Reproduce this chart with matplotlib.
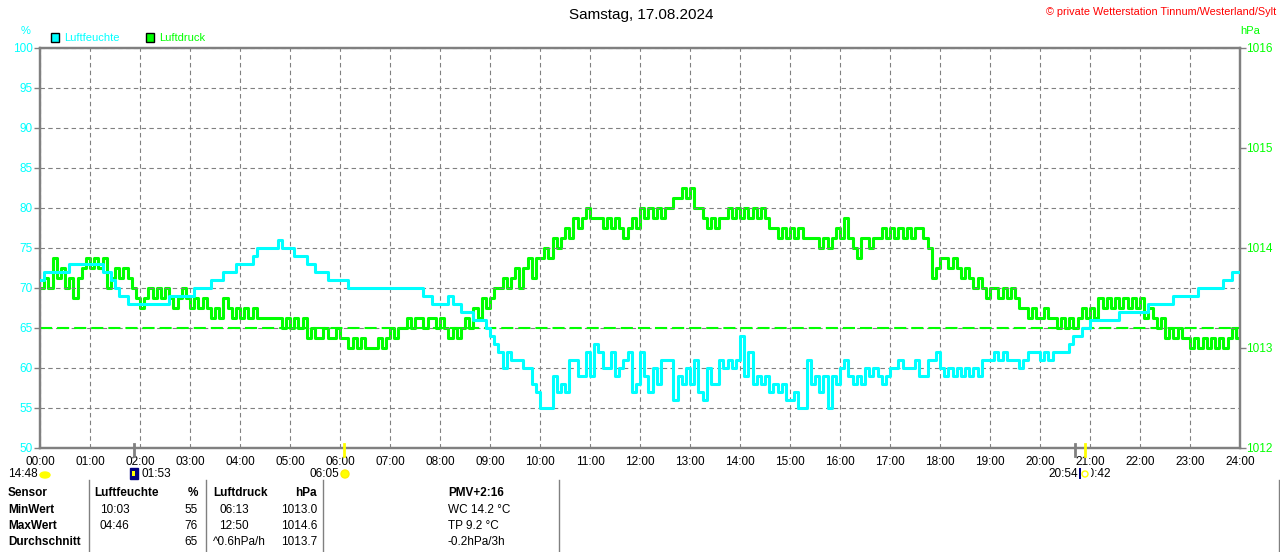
import numpy as np
import matplotlib
matplotlib.use("Agg")
import matplotlib.pyplot as plt
from matplotlib.patches import Rectangle, Ellipse

plt.rcParams['font.family'] = ['Liberation Sans', 'DejaVu Sans']

W, H = 1280, 552

title = "Samstag, 17.08.2024"
copyright_text = "© private Wetterstation Tinnum/Westerland/Sylt"
hour_labels = [f"{h:02d}:00" for h in range(25)]
hum_ticks = list(range(50, 101, 5))
pres_ticks = [1012, 1013, 1014, 1015, 1016]
avg_humidity = 65
step_minutes = 5

# Luftfeuchte (%), one value every 5 minutes, 00:00 .. 24:00
humidity = [
    71, 72, 72, 72, 72, 72, 72, 73, 73, 73, 73, 73,
    73, 73, 73, 72, 72, 71, 70, 69, 69, 68, 68, 68,
    68, 68, 68, 68, 68, 68, 68, 69, 69, 69, 69, 69,
    69, 70, 70, 70, 70, 71, 71, 71, 72, 72, 72, 73,
    73, 73, 73, 74, 75, 75, 75, 75, 75, 76, 75, 75,
    75, 74, 74, 74, 73, 73, 72, 72, 72, 71, 71, 71,
    71, 71, 70, 70, 70, 70, 70, 70, 70, 70, 70, 70,
    70, 70, 70, 70, 70, 70, 70, 70, 69, 69, 68, 68,
    68, 68, 69, 68, 68, 67, 67, 67, 66, 66, 66, 65,
    64, 63, 62, 60, 62, 61, 61, 61, 60, 60, 58, 57,
    55, 55, 55, 59, 57, 58, 57, 61, 61, 59, 59, 62,
    59, 63, 62, 60, 60, 62, 59, 60, 61, 62, 57, 58,
    62, 59, 57, 60, 58, 61, 61, 61, 56, 59, 58, 60,
    58, 61, 57, 56, 60, 58, 58, 61, 60, 61, 60, 61,
    64, 59, 62, 58, 59, 58, 59, 57, 58, 57, 58, 56,
    56, 57, 55, 55, 61, 58, 59, 57, 59, 55, 59, 58,
    60, 61, 59, 58, 59, 58, 60, 59, 60, 59, 58, 59,
    60, 60, 61, 60, 60, 60, 61, 59, 59, 61, 61, 62,
    60, 59, 60, 59, 60, 59, 60, 59, 60, 59, 61, 61,
    61, 62, 61, 62, 61, 61, 61, 60, 61, 62, 62, 62,
    61, 62, 61, 62, 62, 62, 62, 63, 64, 64, 65, 65,
    66, 66, 66, 66, 66, 66, 66, 67, 67, 67, 67, 67,
    67, 67, 68, 68, 68, 68, 68, 68, 69, 69, 69, 69,
    69, 69, 70, 70, 70, 70, 70, 70, 71, 71, 72, 72,
    72,
]

# Luftdruck (hPa), one value every 5 minutes, 00:00 .. 24:00
pressure = [
    1013.6, 1013.7, 1013.6, 1013.9, 1013.7, 1013.8, 1013.6, 1013.7, 1013.5, 1013.7, 1013.8, 1013.9,
    1013.8, 1013.9, 1013.8, 1013.9, 1013.6, 1013.7, 1013.8, 1013.7, 1013.8, 1013.7, 1013.6, 1013.5,
    1013.4, 1013.5, 1013.6, 1013.5, 1013.6, 1013.5, 1013.6, 1013.5, 1013.4, 1013.5, 1013.6, 1013.5,
    1013.4, 1013.5, 1013.4, 1013.5, 1013.4, 1013.3, 1013.4, 1013.3, 1013.5, 1013.4, 1013.3, 1013.4,
    1013.3, 1013.4, 1013.3, 1013.4, 1013.3, 1013.3, 1013.3, 1013.3, 1013.3, 1013.3, 1013.2, 1013.3,
    1013.2, 1013.3, 1013.2, 1013.3, 1013.1, 1013.2, 1013.1, 1013.1, 1013.2, 1013.1, 1013.1, 1013.2,
    1013.1, 1013.1, 1013.0, 1013.1, 1013.0, 1013.1, 1013.0, 1013.0, 1013.0, 1013.1, 1013.0, 1013.1,
    1013.2, 1013.1, 1013.2, 1013.2, 1013.3, 1013.2, 1013.3, 1013.3, 1013.2, 1013.3, 1013.3, 1013.2,
    1013.3, 1013.2, 1013.1, 1013.2, 1013.1, 1013.2, 1013.3, 1013.2, 1013.4, 1013.3, 1013.5, 1013.4,
    1013.5, 1013.6, 1013.6, 1013.7, 1013.6, 1013.7, 1013.8, 1013.6, 1013.8, 1013.9, 1013.7, 1013.9,
    1013.9, 1014.0, 1013.9, 1014.1, 1014.0, 1014.1, 1014.2, 1014.1, 1014.3, 1014.2, 1014.3, 1014.4,
    1014.3, 1014.3, 1014.3, 1014.2, 1014.3, 1014.2, 1014.3, 1014.2, 1014.1, 1014.2, 1014.3, 1014.2,
    1014.4, 1014.3, 1014.4, 1014.3, 1014.4, 1014.3, 1014.4, 1014.4, 1014.5, 1014.5, 1014.6, 1014.5,
    1014.6, 1014.4, 1014.4, 1014.3, 1014.2, 1014.3, 1014.2, 1014.3, 1014.3, 1014.4, 1014.3, 1014.4,
    1014.3, 1014.4, 1014.3, 1014.4, 1014.3, 1014.4, 1014.3, 1014.2, 1014.2, 1014.1, 1014.2, 1014.1,
    1014.2, 1014.1, 1014.2, 1014.1, 1014.1, 1014.1, 1014.1, 1014.0, 1014.1, 1014.0, 1014.1, 1014.2,
    1014.1, 1014.3, 1014.1, 1014.0, 1013.9, 1014.1, 1014.1, 1014.0, 1014.1, 1014.1, 1014.2, 1014.1,
    1014.2, 1014.1, 1014.2, 1014.1, 1014.2, 1014.1, 1014.2, 1014.2, 1014.1, 1014.0, 1013.7, 1013.8,
    1013.9, 1013.9, 1013.8, 1013.9, 1013.8, 1013.7, 1013.8, 1013.7, 1013.6, 1013.7, 1013.6, 1013.5,
    1013.6, 1013.6, 1013.5, 1013.6, 1013.5, 1013.6, 1013.5, 1013.4, 1013.4, 1013.3, 1013.4, 1013.3,
    1013.3, 1013.4, 1013.3, 1013.3, 1013.2, 1013.3, 1013.2, 1013.3, 1013.2, 1013.3, 1013.4, 1013.3,
    1013.4, 1013.3, 1013.5, 1013.4, 1013.5, 1013.4, 1013.5, 1013.4, 1013.5, 1013.4, 1013.5, 1013.4,
    1013.5, 1013.3, 1013.4, 1013.3, 1013.2, 1013.3, 1013.1, 1013.2, 1013.1, 1013.2, 1013.1, 1013.1,
    1013.0, 1013.1, 1013.0, 1013.1, 1013.0, 1013.1, 1013.0, 1013.1, 1013.0, 1013.1, 1013.2, 1013.1,
    1013.2,
]

# astronomical events (time in hours, kind)
event_times = [1 + 53 / 60, 6 + 5 / 60, 20 + 42 / 60, 20 + 54 / 60]
event_colors = ["#808080", "#FFFF00", "#808080", "#FFFF00"]

# table content
table_header = ["Sensor", "Luftfeuchte", "%", "Luftdruck", "hPa", "PMV+2:16"]
row_names = ["MinWert", "MaxWert", "Durchschnitt"]
hum_times = ["10:03", "04:46", ""]
hum_vals = ["55", "76", "65"]
pres_times = ["06:13", "12:50", "^0.6hPa/h"]
pres_vals = ["1013.0", "1014.6", "1013.7"]
extra = ["WC 14.2 °C", "TP 9.2 °C", "-0.2hPa/3h"]

CYAN = "#00FFFF"
GREEN = "#00FF00"
GRAY = "#808080"

fig = plt.figure(figsize=(W / 100, H / 100), dpi=100)
fig.patch.set_facecolor("white")


def fx(x):
    return x / W


def fy(y):
    return 1 - y / H


def ftxt(x, y, s, **kw):
    kw.setdefault("va", "center")
    kw.setdefault("fontsize", 8.5)
    return fig.text(fx(x), fy(y), s, **kw)


ax = fig.add_axes([fx(40), fy(448), 1200 / W, 400 / H])
ax2 = ax.twinx()

t = np.arange(len(humidity)) * step_minutes / 60.0
tp = np.arange(len(pressure)) * step_minutes / 60.0

ax.set_xlim(0, 24)
ax.set_ylim(50, 100)
ax2.set_ylim(1012, 1016)

ax.set_xticks(range(25))
ax.set_xticklabels(hour_labels)
ax.set_yticks(hum_ticks)
ax.set_yticklabels([str(v) for v in hum_ticks])
ax2.set_yticks(pres_ticks)
ax2.set_yticklabels([str(v) for v in pres_ticks])

ax.grid(True, color=GRAY, linestyle=(0, (4, 3)), linewidth=0.8)
ax.set_axisbelow(True)

for a in (ax, ax2):
    for s in a.spines.values():
        s.set_color(GRAY)
        s.set_linewidth(1.6)

ax.tick_params(axis="y", colors=GRAY, labelcolor=CYAN, labelsize=8.5, length=4, width=1, pad=1)
ax.tick_params(axis="x", colors=GRAY, labelcolor="black", labelsize=8.5, length=0, pad=6)
ax2.tick_params(axis="y", colors=GRAY, labelcolor=GREEN, labelsize=8.5, length=4, width=1, pad=0.5)

# average dashed line
ax.axhline(avg_humidity, color=GREEN, linewidth=1.5, dashes=(5.8, 2.4), zorder=2)

# series (pressure first, humidity on top)
ax2.plot(tp, pressure, color=GREEN, linewidth=2.2, drawstyle="steps-post", zorder=3)
ax.set_zorder(ax2.get_zorder() + 1)
ax.patch.set_visible(False)
ax.plot(t, humidity, color=CYAN, linewidth=2.2, drawstyle="steps-post", zorder=4)

# event ticks below the axis
for et, ec in zip(event_times, event_colors):
    ax.plot([et, et], [50.5, 49.0], color=ec, linewidth=2, clip_on=False, zorder=5)

# title and credits
ftxt(641, 15, title, ha="center", fontsize=11)
ftxt(1276, 12, copyright_text, ha="right", color="#FF0000", fontsize=7.8)

# legend
fig.patches.append(Rectangle((fx(51), fy(42)), 8 / W, 9 / H, transform=fig.transFigure,
                             facecolor=CYAN, edgecolor="black", linewidth=1))
ftxt(64, 38, "Luftfeuchte", color=CYAN, fontsize=8)
fig.patches.append(Rectangle((fx(146), fy(42)), 8 / W, 9 / H, transform=fig.transFigure,
                             facecolor=GREEN, edgecolor="black", linewidth=1))
ftxt(159, 38, "Luftdruck", color=GREEN, fontsize=8)
ftxt(26, 31, "%", color=CYAN, ha="center", fontsize=8)
ftxt(1250, 31, "hPa", color=GREEN, ha="center", fontsize=8)

# event labels
ftxt(8, 474, "14:48", fontsize=8.5)
fig.patches.append(Ellipse((fx(45), fy(475)), 10 / W, 6 / H, transform=fig.transFigure,
                           facecolor="#FFFF00", edgecolor="#FFFF00"))
fig.patches.append(Rectangle((fx(130), fy(479)), 8 / W, 11 / H, transform=fig.transFigure,
                             facecolor="#000080", edgecolor="#000080"))
fig.patches.append(Rectangle((fx(132), fy(476)), 3 / W, 5 / H, transform=fig.transFigure,
                             facecolor="#FFFF00", edgecolor="none"))
ftxt(141, 474, "01:53", fontsize=8.5)
ftxt(339, 474, "06:05", ha="right", fontsize=8.5)
fig.patches.append(Ellipse((fx(345), fy(474)), 8 / W, 8 / H, transform=fig.transFigure,
                           facecolor="#FFFF00", edgecolor="#FFEE00"))
fig.patches.append(Rectangle((fx(1079), fy(479)), 2 / W, 11 / H, transform=fig.transFigure,
                             facecolor="#000080", edgecolor="none"))
ftxt(1081, 474, "20:42", fontsize=8.5, zorder=2)
ftxt(1078, 474, "20:54", ha="right", fontsize=8.5, zorder=3)
fig.patches.append(Rectangle((fx(1081), fy(479)), 10 / W, 11 / H, transform=fig.transFigure,
                             facecolor="white", edgecolor="none", zorder=2.5))
fig.patches.append(Ellipse((fx(1085), fy(474)), 6 / W, 6 / H, transform=fig.transFigure,
                           facecolor="none", edgecolor="#FFFF00", linewidth=1, zorder=2.6))

# table
row_y = [493, 510, 526, 542]
ftxt(8, row_y[0], table_header[0], fontweight="bold")
ftxt(94, row_y[0], table_header[1], fontweight="bold")
ftxt(198, row_y[0], table_header[2], fontweight="bold", ha="right")
ftxt(213, row_y[0], table_header[3], fontweight="bold")
ftxt(317, row_y[0], table_header[4], fontweight="bold", ha="right")
ftxt(448, row_y[0], table_header[5], fontweight="bold")
for i in range(3):
    y = row_y[i + 1]
    ftxt(8, y, row_names[i], fontweight="bold")
    ftxt(100, y, hum_times[i])
    ftxt(198, y, hum_vals[i], ha="right")
    ftxt(213 if pres_times[i].startswith("^") else 219, y, pres_times[i])
    ftxt(317, y, pres_vals[i], ha="right")
    ftxt(448, y, extra[i])

for xl in [89, 206, 323, 559, 1279]:
    fig.lines.append(plt.Line2D([fx(xl), fx(xl)], [fy(480), fy(552)], transform=fig.transFigure,
                                color=GRAY, linewidth=1))

fig.savefig("out.png", dpi=100, facecolor="white")
